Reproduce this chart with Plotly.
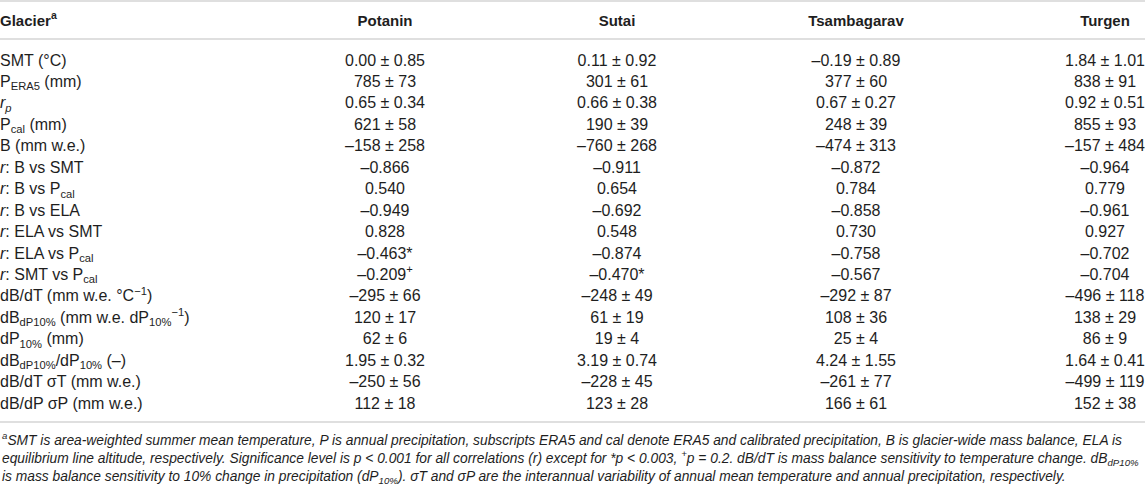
import plotly.graph_objects as go

params = [
    "SMT (°C)",
    "P<sub>ERA5</sub> (mm)",
    "<i>r<sub>p</sub></i>",
    "P<sub>cal</sub> (mm)",
    "B (mm w.e.)",
    "<i>r</i>: B vs SMT",
    "<i>r</i>: B vs P<sub>cal</sub>",
    "<i>r</i>: B vs ELA",
    "<i>r</i>: ELA vs SMT",
    "<i>r</i>: ELA vs P<sub>cal</sub>",
    "<i>r</i>: SMT vs P<sub>cal</sub>",
    "dB/dT (mm w.e. °C<sup>−1</sup>)",
    "dB<sub>dP10%</sub> (mm w.e. dP<sub>10%</sub><sup>−1</sup>)",
    "dP<sub>10%</sub> (mm)",
    "dB<sub>dP10%</sub>/dP<sub>10%</sub> (–)",
    "dB/dT σT (mm w.e.)",
    "dB/dP σP (mm w.e.)",
]
glaciers = ["Potanin", "Sutai", "Tsambagarav", "Turgen"]
potanin = ["0.00 ± 0.85", "785 ± 73", "0.65 ± 0.34", "621 ± 58", "–158 ± 258",
           "–0.866", "0.540", "–0.949", "0.828", "–0.463*", "–0.209<sup>+</sup>",
           "–295 ± 66", "120 ± 17", "62 ± 6", "1.95 ± 0.32", "–250 ± 56", "112 ± 18"]
sutai = ["0.11 ± 0.92", "301 ± 61", "0.66 ± 0.38", "190 ± 39", "–760 ± 268",
         "–0.911", "0.654", "–0.692", "0.548", "–0.874", "–0.470*",
         "–248 ± 49", "61 ± 19", "19 ± 4", "3.19 ± 0.74", "–228 ± 45", "123 ± 28"]
tsamb = ["–0.19 ± 0.89", "377 ± 60", "0.67 ± 0.27", "248 ± 39", "–474 ± 313",
         "–0.872", "0.784", "–0.858", "0.730", "–0.758", "–0.567",
         "–292 ± 87", "108 ± 36", "25 ± 4", "4.24 ± 1.55", "–261 ± 77", "166 ± 61"]
turgen = ["1.84 ± 1.01", "838 ± 91", "0.92 ± 0.51", "855 ± 93", "–157 ± 484",
          "–0.964", "0.779", "–0.961", "0.927", "–0.702", "–0.704",
          "–496 ± 118", "138 ± 29", "86 ± 9", "1.64 ± 0.41", "–499 ± 119", "152 ± 38"]
first_header = "Glacier<sup>a</sup>"

footnote_lines = [
    "<sup>a</sup>SMT is area-weighted summer mean temperature, P is annual precipitation, "
    "subscripts ERA5 and cal denote ERA5 and calibrated precipitation, B is glacier-wide mass balance, ELA is",
    "equilibrium line altitude, respectively. Significance level is p &lt; 0.001 for all correlations (r) "
    "except for *p &lt; 0.003, <sup>+</sup>p = 0.2. dB/dT is mass balance sensitivity to temperature change. "
    "dB<sub>dP10%</sub>",
    "is mass balance sensitivity to 10% change in precipitation (dP<sub>10%</sub>). σT and σP are the "
    "interannual variability of annual mean temperature and annual precipitation, respectively.",
]

# layout
W, H = 1145, 488
txt = "#1e1e1e"
rule = "#d4d4d4"
font = "Liberation Sans"
col_x = {"Potanin": 385, "Sutai": 617, "Tsambagarav": 856, "Turgen": 1105}
row_px0, row_pitch = 61.5, 21.45        # first row centre and row pitch in pixels
top = -row_px0 / row_pitch              # y value at the top edge
header_y = top + 22 / row_pitch

rows = list(range(len(params)))
fig = go.Figure()

fig.add_trace(go.Scatter(x=[0] * len(params), y=rows, text=params, mode="text",
                         textposition="middle right", hoverinfo="skip", cliponaxis=False,
                         textfont=dict(family=font, size=16, color=txt)))
for name, vals in zip(glaciers, [potanin, sutai, tsamb, turgen]):
    fig.add_trace(go.Scatter(x=[col_x[name]] * len(vals), y=rows, text=vals, mode="text",
                             textposition="middle center", hoverinfo="skip", cliponaxis=False,
                             textfont=dict(family=font, size=16, color=txt)))

fig.add_trace(go.Scatter(x=[0] + [col_x[g] for g in glaciers], y=[header_y] * 5,
                         text=["<b>%s</b>" % h for h in [first_header] + glaciers], mode="text",
                         textposition=["middle right"] + ["middle center"] * 4, hoverinfo="skip",
                         cliponaxis=False, textfont=dict(family=font, size=15, color=txt)))

for ypx in (1, 39, 422):
    y = top + ypx / row_pitch
    fig.add_shape(type="line", xref="paper", x0=0, x1=1, y0=y, y1=y,
                  line=dict(color=rule, width=1.3))

for i, line in enumerate(footnote_lines):
    fig.add_annotation(text="<i>" + line + "</i>", xref="paper", yref="paper",
                       x=0, y=1 - (439 + 19.3 * i) / H, xanchor="left", yanchor="middle",
                       align="left", showarrow=False,
                       font=dict(family=font, size=13.8, color=txt))

fig.update_layout(width=W, height=H, margin=dict(l=0, r=0, t=0, b=0),
                  paper_bgcolor="white", plot_bgcolor="white", showlegend=False,
                  xaxis=dict(range=[0, W], visible=False, fixedrange=True),
                  yaxis=dict(range=[top + H / row_pitch, top], visible=False, fixedrange=True))
# page body has a default 8px margin; drop it so the figure fills the window
fig.write_html("out.html", config={"displayModeBar": False},
               post_script="document.body.style.margin='0';")
